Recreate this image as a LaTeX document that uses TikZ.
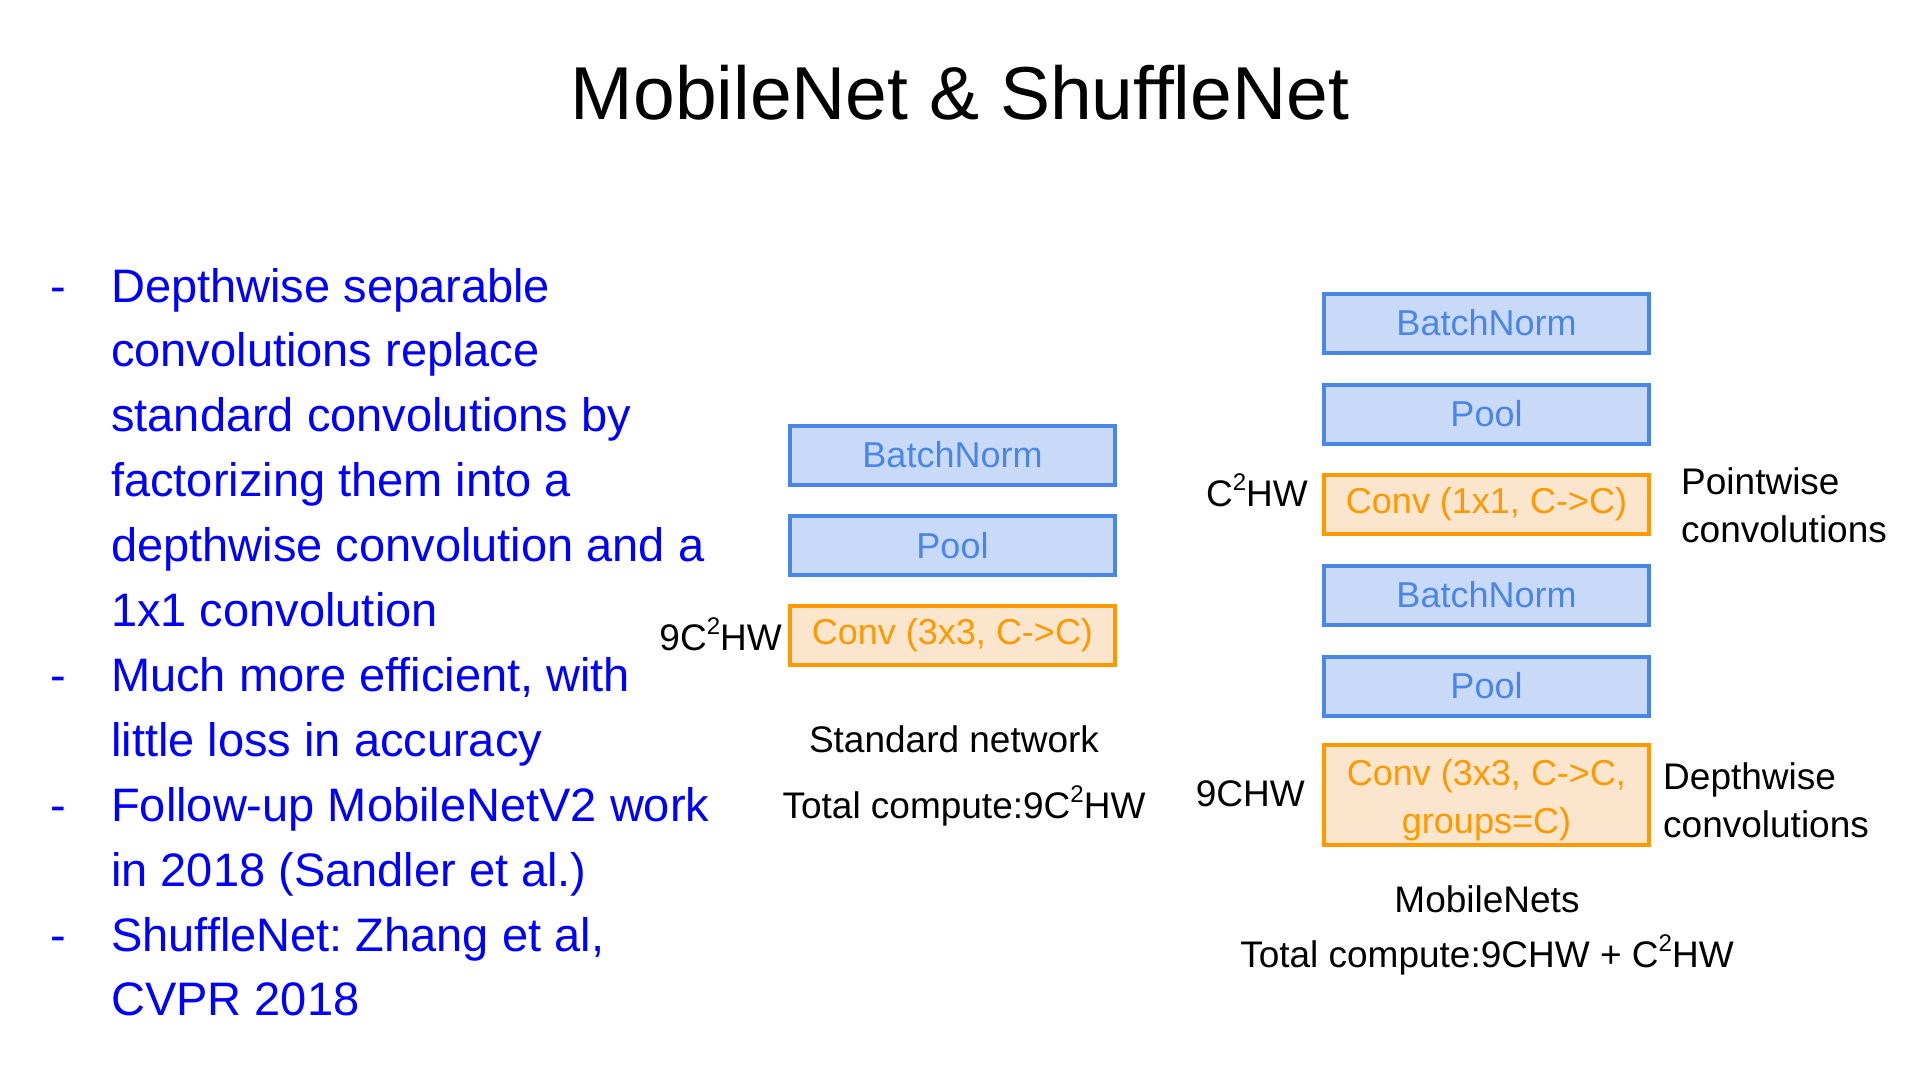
\documentclass[tikz,border=0pt]{standalone}
\usepackage{fontspec}
\setmainfont{Liberation Sans}
\definecolor{bluefill}{HTML}{C9DAF8}
\definecolor{blueline}{HTML}{4A86E8}
\definecolor{orangefill}{HTML}{FCE5CD}
\definecolor{orangeline}{HTML}{FF9900}
\definecolor{bullettext}{HTML}{0000FF}
% raised small "2" for the squared channel count
\newcommand{\sqtwo}{\raisebox{0.42em}{\scalebox{0.65}{2}}}
\begin{document}
\frenchspacing
\begin{tikzpicture}[x=1pt,y=-1pt,
  layerbox/.style={draw, line width=4pt, minimum width=325pt, minimum height=59pt,
    inner sep=0pt, align=center, font=\fontsize{36}{48}\selectfont},
  bnbox/.style={layerbox, draw=blueline, fill=bluefill, text=blueline},
  convbox/.style={layerbox, draw=orangeline, fill=orangefill, text=orangeline},
  lbl/.style={inner sep=0pt, font=\fontsize{37}{48}\selectfont, text=black},
  bul/.style={inner sep=0pt, anchor=base west, font=\fontsize{47}{56}\selectfont, text=bullettext}]
\useasboundingbox (0,0) rectangle (1920,1065);
\fill[white] (0,0) rectangle (1920,1065);

% title
\node[inner sep=0pt, anchor=base, font=\fontsize{75}{90}\selectfont] (title) at (960,119) {MobileNet \& ShuffleNet};

% bullet list
\foreach \t [count=\i] in {Depthwise separable, convolutions replace,
  standard convolutions by, factorizing them into a,
  depthwise convolution and a, 1x1 convolution,
  {Much more efficient, with}, little loss in accuracy,
  Follow-up MobileNetV2 work, in 2018 (Sandler et al.),
  {ShuffleNet: Zhang et al,}, CVPR 2018}
  \node[bul] (ln\i) at (111,{302+(\i-1)*64.9}) {\t};
\foreach \i in {1,7,9,11}
  \node[bul] (dash\i) at (50,{302+(\i-1)*64.9}) {-};

% standard network stack
\node[bnbox] (sbn) at (952.5,455) {BatchNorm};
\node[bnbox] (spool) at (952.5,545.5) {Pool};
\node[convbox] (sconv) at (952.5,635.5) {Conv (3x3, C->C)};
\node[lbl, anchor=base east] (scost) at (782,650) {9C\sqtwo HW};
\node[lbl, anchor=base] (sname) at (954,752) {Standard network};
\node[lbl, anchor=base] (stotal) at (964,818) {Total compute:9C\sqtwo HW};

% MobileNets stack
\node[bnbox] (mbn1) at (1486.5,323) {BatchNorm};
\node[bnbox] (mpool1) at (1486.5,414) {Pool};
\node[convbox] (mconv1) at (1486.5,504.5) {Conv (1x1, C->C)};
\node[bnbox] (mbn2) at (1486.5,595) {BatchNorm};
\node[bnbox] (mpool2) at (1486.5,686) {Pool};
\node[convbox, minimum height=100pt, text height=84pt, text depth=8pt] (mconv2) at (1486.5,795) {Conv (3x3, C->C,\\groups=C)};

% side labels (base anchor sits on the last line)
\node[lbl, anchor=base east] (pwcost) at (1308,506) {C\sqtwo HW};
\node[lbl, anchor=base west, align=left] (pwname) at (1681,542) {Pointwise\\convolutions};
\node[lbl, anchor=base east] (dwcost) at (1305,806) {9CHW};
\node[lbl, anchor=base west, align=left] (dwname) at (1663,837) {Depthwise\\convolutions};
\node[lbl, anchor=base] (mname) at (1487,912) {MobileNets};
\node[lbl, anchor=base] (mtotal) at (1487,967) {Total compute:9CHW + C\sqtwo HW};
\end{tikzpicture}
\end{document}
